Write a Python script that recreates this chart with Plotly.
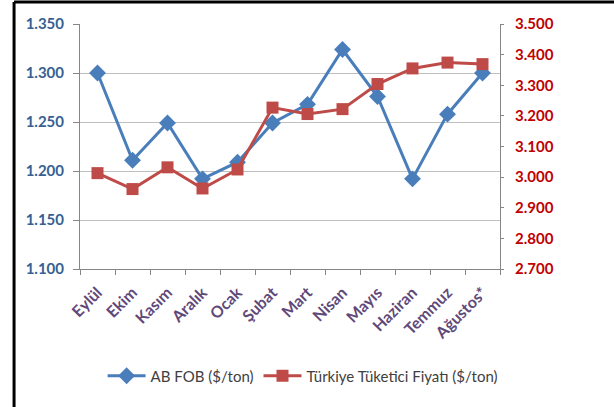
import plotly.graph_objects as go

months = ["Eylül", "Ekim", "Kasım", "Aralık", "Ocak", "Şubat", "Mart",
          "Nisan", "Mayıs", "Haziran", "Temmuz", "Ağustos*"]
ab_fob = [1.300, 1.211, 1.249, 1.192, 1.209, 1.249, 1.268,
          1.324, 1.276, 1.192, 1.258, 1.300]
tr_tuketici = [3.013, 2.961, 3.032, 2.963, 3.025, 3.227, 3.206,
               3.222, 3.304, 3.355, 3.374, 3.369]

left_ticks = [1.100, 1.150, 1.200, 1.250, 1.300, 1.350]
right_ticks = [2.7, 2.8, 2.9, 3.0, 3.1, 3.2, 3.3, 3.4, 3.5]

FONT = "Lato"

fig = go.Figure()
fig.add_trace(go.Scatter(
    x=months, y=ab_fob, name="AB FOB ($/ton)", mode="lines+markers",
    line=dict(color="#4A7EBB", width=3),
    marker=dict(symbol="diamond", size=13, color="#4A7EBB"),
))
fig.add_trace(go.Scatter(
    x=months, y=tr_tuketici, name="Türkiye Tüketici Fiyatı ($/ton)",
    mode="lines+markers", yaxis="y2",
    line=dict(color="#BE4B48", width=3),
    marker=dict(symbol="square", size=12, color="#BE4B48"),
))

fig.update_layout(
    width=614, height=407,
    margin=dict(l=80, r=114, t=24, b=138, autoexpand=False),
    paper_bgcolor="white", plot_bgcolor="white",
    font=dict(family=FONT, size=14, color="#404040"),
    showlegend=True,
    legend=dict(orientation="h", x=0.53, xanchor="center", y=-0.437,
                yanchor="middle", font=dict(size=15, color="#404040"),
                itemwidth=38, tracegroupgap=0),
    xaxis=dict(
        type="category", range=[-0.5, len(months) - 0.5],
        tickangle=-45, showgrid=False, automargin=False,
        showline=True, linecolor="#868686", linewidth=1,
        ticks="outside", ticklen=5, tickcolor="#868686", tickson="boundaries",
        ticklabelstandoff=7,
        tickfont=dict(family=FONT, size=16, color="#5F497A", weight="bold"),
    ),
    yaxis=dict(
        range=[1.100, 1.350], tickvals=left_ticks, automargin=False,
        ticktext=[f"{v:.3f}" for v in left_ticks],
        showgrid=True, gridcolor="#BFBFBF", gridwidth=1,
        showline=True, linecolor="#868686", linewidth=1,
        ticks="outside", ticklen=6, tickcolor="#868686", ticklabelstandoff=6,
        tickfont=dict(family=FONT, size=15, color="#376092", weight="bold"),
        zeroline=False,
    ),
    yaxis2=dict(
        range=[2.7, 3.5], tickvals=right_ticks, automargin=False,
        ticktext=[f"{v:.3f}" for v in right_ticks],
        overlaying="y", side="right", showgrid=False,
        showline=True, linecolor="#868686", linewidth=1,
        ticks="outside", ticklen=3, tickcolor="#868686", ticklabelstandoff=8,
        tickfont=dict(family=FONT, size=15, color="#C00000", weight="bold"),
        zeroline=False,
    ),
    shapes=[
        dict(type="line", xref="paper", yref="paper",
             x0=-0.157, x1=1.3, y0=1.0898, y1=1.0898,
             line=dict(color="black", width=3)),
        dict(type="line", xref="paper", yref="paper",
             x0=-0.157, x1=-0.157, y0=1.0898, y1=-0.6,
             line=dict(color="black", width=3)),
    ],
)

# the page's default 8px body margin would shift the whole chart
fig.write_html("out.html", config={"displayModeBar": False},
               post_script="document.body.style.margin='0px';")
